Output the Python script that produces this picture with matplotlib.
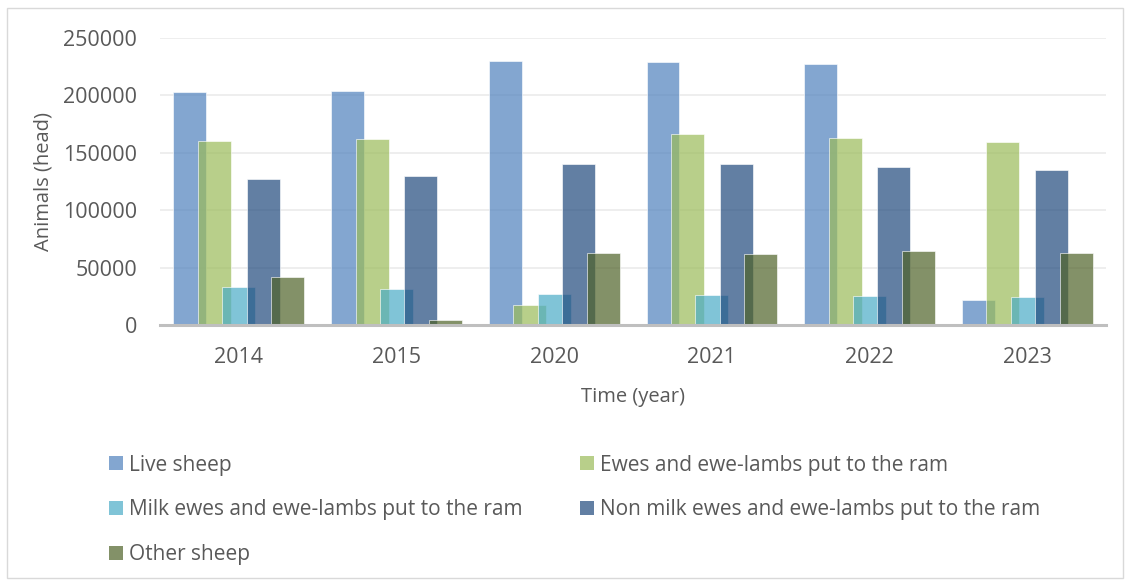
import numpy as np
import matplotlib
matplotlib.use("Agg")
import matplotlib.pyplot as plt
from matplotlib.patches import Rectangle, Patch

years = ["2014", "2015", "2020", "2021", "2022", "2023"]
live_sheep = [203000, 204000, 230000, 229000, 227000, 22000]
ewes_ram = [160500, 161800, 17000, 166500, 163000, 159000]
milk_ewes = [33000, 31500, 27000, 26000, 25000, 24000]
non_milk_ewes = [127500, 129500, 140500, 140500, 137500, 135000]
other_sheep = [42000, 4000, 62500, 62000, 64000, 62500]

names = ["Live sheep", "Ewes and ewe-lambs put to the ram",
         "Milk ewes and ewe-lambs put to the ram",
         "Non milk ewes and ewe-lambs put to the ram", "Other sheep"]
colors = ["#4F81BD", "#9BBB59", "#4BACC6", "#1F497D", "#4F6228"]

plt.rcParams['font.family'] = ['Open Sans', 'DejaVu Sans']
text_col = "#595959"

fig = plt.figure(figsize=(11.3, 5.82), dpi=100)
fig.patches.append(Rectangle((0.006, 0.007), 0.988, 0.979, transform=fig.transFigure,
                             fill=False, edgecolor="#D9D9D9", linewidth=1))
ax = fig.add_axes([0.1416, 0.4416, 0.8372, 0.4934])

x = np.arange(len(years))
width = 0.209
step = 0.155
series = [live_sheep, ewes_ram, milk_ewes, non_milk_ewes, other_sheep]
handles = []
for i, (vals, c, n) in enumerate(zip(series, colors, names)):
    ax.bar(x + (i - 2) * step, vals, width, color=c, alpha=0.7,
           edgecolor=(1, 1, 1, 0.5), linewidth=0.6, zorder=3)
    handles.append(Patch(facecolor=c, alpha=0.7, label=n))

ax.set_xlim(-0.5, len(years) - 0.5)
ax.set_ylim(0, 250000)
ax.set_yticks(np.arange(0, 250001, 50000))
ax.set_yticklabels([str(v) for v in range(0, 250001, 50000)])
ax.set_xticks(x)
ax.set_xticklabels(years)
ax.grid(axis="y", color="#EBEBEB", linewidth=1.2, zorder=0)
for s in ["top", "right", "left"]:
    ax.spines[s].set_visible(False)
ax.spines["bottom"].set_color("#BFBFBF")
ax.spines["bottom"].set_linewidth(2.2)
ax.spines["bottom"].set_zorder(4)
ax.tick_params(length=0, labelsize=15.5, colors=text_col)
ax.tick_params(axis="y", pad=16.5)
ax.tick_params(axis="x", pad=16)
ax.set_xlabel("Time (year)", fontsize=14.5, color=text_col, labelpad=13.5)
ax.set_ylabel("Animals (head)", fontsize=14.5, color=text_col, labelpad=7)

order = [0, 2, 4, 1, 3]
fig.legend([handles[k] for k in order], [names[k] for k in order],
           loc="upper left", bbox_to_anchor=(0.0799, 0.2512), ncol=2,
           frameon=False, fontsize=15, labelcolor=text_col,
           handlelength=0.67, handleheight=0.67, handletextpad=0.29,
           columnspacing=2.75, labelspacing=1.14)

fig.savefig("out.png", dpi=100)
